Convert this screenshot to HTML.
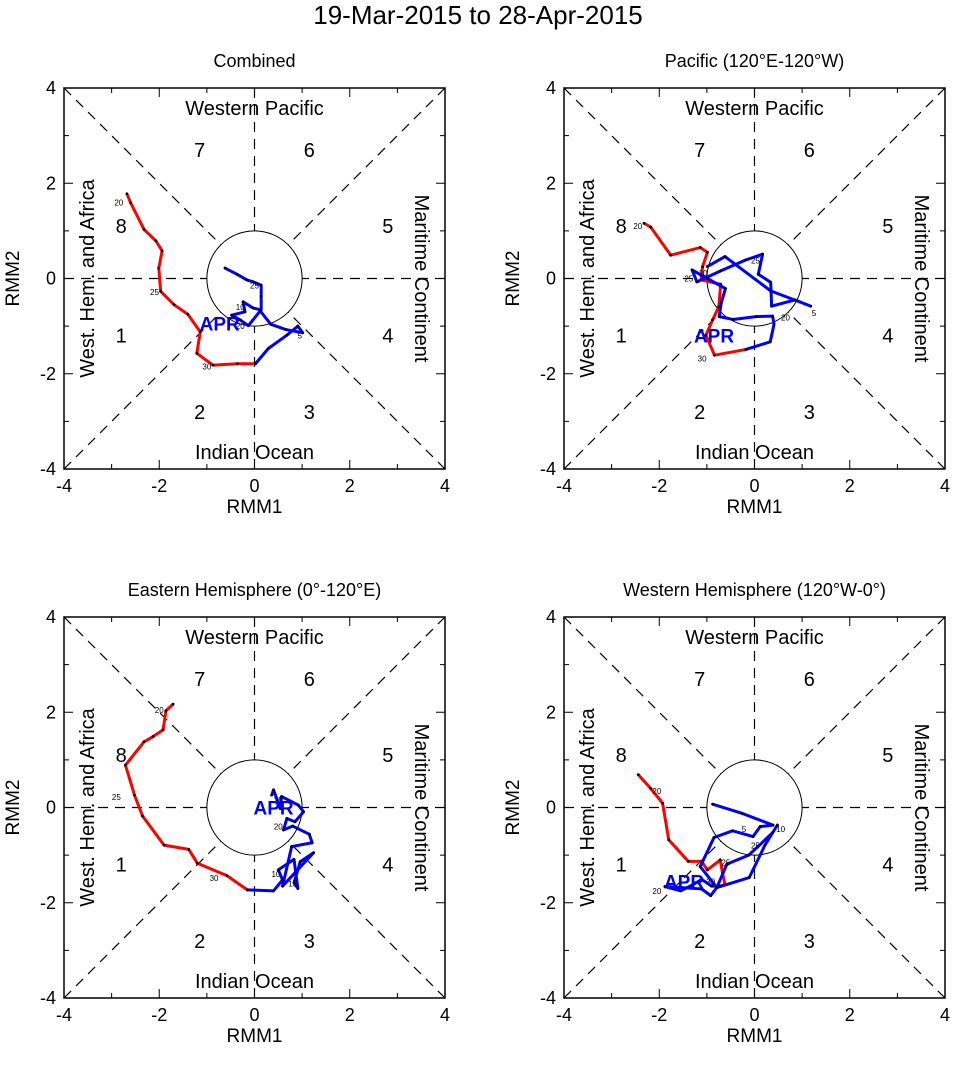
<!DOCTYPE html>
<html><head><meta charset="utf-8"><style>
body{margin:0;background:#fff;font-family:"Liberation Sans",sans-serif}
svg text{font-family:"Liberation Sans",sans-serif}
</style></head><body>
<svg id="s" width="956" height="1060">
<text x="478" y="24" font-size="26" text-anchor="middle">19-Mar-2015 to 28-Apr-2015</text>
</svg>
<script>
const panelTitles=["Combined","Pacific (120°E-120°W)","Eastern Hemisphere (0°-120°E)","Western Hemisphere (120°W-0°)"];
const red1=[[-2.68,1.78],[-2.60,1.59],[-2.32,1.03],[-2.07,0.79],[-1.94,0.58],[-2.01,0.22],[-1.97,-0.27],[-1.69,-0.55],[-1.40,-0.75],[-1.14,-1.12],[-1.21,-1.57],[-0.87,-1.82],[-0.36,-1.79],[0.02,-1.79]];
const blue1=[[0.02,-1.79],[0.29,-1.47],[0.68,-1.19],[0.91,-1.00],[1.01,-1.14],[0.65,-1.07],[0.34,-0.96],[0.12,-0.68],[-0.13,-0.99],[-0.30,-0.87],[-0.48,-0.77],[-0.20,-0.70],[-0.24,-0.49],[-0.03,-0.62],[0.14,-0.66],[0.14,-0.37],[0.14,-0.14],[-0.03,-0.07],[-0.16,-0.03],[-0.37,0.09],[-0.62,0.22]];
const red2=[[-2.32,1.16],[-2.18,1.08],[-1.76,0.49],[-1.14,0.65],[-0.99,0.55],[-1.09,0.25],[-1.12,-0.03],[-0.71,-0.12],[-0.75,-0.59],[-0.88,-0.87],[-1.02,-1.19],[-0.84,-1.61],[-0.18,-1.49]];
const blue2=[[-0.18,-1.49],[0.33,-1.33],[0.41,-0.96],[0.38,-0.79],[0.03,-0.80],[-0.45,-0.86],[-0.74,-0.80],[-0.70,-0.52],[-0.61,-0.21],[-0.99,0.00],[-1.31,0.18],[-1.21,-0.07],[-0.71,0.16],[-0.18,0.39],[0.17,0.51],[0.08,0.09],[0.34,-0.08],[0.36,-0.58],[0.85,-0.45],[1.18,-0.58],[0.34,-0.26],[-0.62,0.46],[-0.99,0.25]];
const red3=[[-1.71,2.17],[-1.86,2.03],[-1.92,1.63],[-2.13,1.49],[-2.32,1.38],[-2.71,0.89],[-2.52,0.26],[-2.35,-0.18],[-1.90,-0.79],[-1.38,-0.88],[-1.20,-1.17],[-0.58,-1.43],[-0.15,-1.73]];
const blue3=[[-0.15,-1.73],[0.40,-1.75],[0.59,-1.52],[0.50,-1.31],[0.83,-1.09],[0.91,-1.70],[0.83,-1.58],[0.96,-1.14],[1.24,-0.95],[0.59,-1.65],[0.78,-0.82],[1.21,-0.74],[1.15,-0.56],[0.80,-0.39],[0.61,-0.47],[0.68,-0.23],[0.85,-0.30],[1.03,-0.09],[0.92,0.05],[0.57,0.23],[0.54,-0.02],[0.40,0.37],[0.36,0.26]];
const red4=[[-2.44,0.69],[-2.18,0.40],[-1.93,0.09],[-1.80,-0.68],[-1.39,-1.13],[-1.11,-1.13],[-0.99,-1.31],[-0.72,-1.10],[-0.67,-1.38],[-0.62,-1.62],[-0.72,-1.65]];
const blue4=[[-0.72,-1.65],[-0.90,-1.65],[-1.11,-1.51],[-1.29,-1.62],[-1.55,-1.75],[-1.88,-1.66],[-1.11,-1.71],[-0.92,-1.85],[-0.79,-1.68],[-0.58,-1.19],[-0.12,-1.00],[0.38,-0.53],[0.48,-0.37],[0.22,-0.79],[-0.11,-1.47],[-0.79,-1.68],[-1.14,-1.24],[-0.85,-0.63],[-0.46,-0.49],[-0.03,-0.61],[0.12,-0.40],[0.39,-0.37],[-0.27,-0.12],[-0.88,0.07]];
const dayLabels1=[["20",-2.85,1.6],["25",-2.1,-0.28],["30",-1.0,-1.85],["5",0.95,-1.2],["10",-0.3,-0.6],["25",0.0,-0.15],["20",-0.3,-1.0]];
const dayLabels2=[["20",-2.45,1.1],["10",-1.08,0.12],["25",-1.38,0.0],["25",0.02,0.38],["20",0.65,-0.82],["5",1.25,-0.72],["30",-1.1,-1.68]];
const dayLabels3=[["20",-2.0,2.05],["25",-2.9,0.22],["30",-0.85,-1.48],["10",0.45,-1.4],["15",0.8,-1.6],["20",0.5,-0.4],["25",0.5,0.16]];
const dayLabels4=[["20",-2.05,0.35],["20",-2.05,-1.75],["25",-0.6,-1.15],["30",-0.92,-1.55],["25",0.02,-0.8],["5",-0.22,-0.45],["10",0.55,-0.45]];
const aprPos=[[-0.73,-0.95],[-0.85,-1.2],[0.4,0.0],[-1.48,-1.55]];
const reds=[red1,red2,red3,red4],blues=[blue1,blue2,blue3,blue4],dls=[dayLabels1,dayLabels2,dayLabels3,dayLabels4];
const ticks=[-4,-2,0,2,4];
const NS="http://www.w3.org/2000/svg";
const svg=document.getElementById('s');
function mk(t,a,p){const e=document.createElementNS(NS,t);for(const k in a)e.setAttribute(k,a[k]);(p||svg).appendChild(e);return e;}
const origins=[[64,88],[564,88],[64,617],[564,617]];
const W=381;
origins.forEach((o,i)=>{
  const g=mk('g',{});
  
  
  const sx=v=>o[0]+(v+4)/8*W, sy=v=>o[1]+(4-v)/8*W;
  const cx=sx(0),cy=sy(0),r=W/8;
  const t=mk('text',{x:cx,y:o[1]-21,'font-size':18,'text-anchor':'middle'},g);t.textContent=panelTitles[i];
  
  const dash={stroke:'#000','stroke-width':1.2,'stroke-dasharray':'10,7',fill:'none'};
  const d=r/Math.SQRT2;
  [[o[0],o[1],cx-d,cy-d],[o[0]+W,o[1],cx+d,cy-d],[o[0],o[1]+W,cx-d,cy+d],[o[0]+W,o[1]+W,cx+d,cy+d],[cx,o[1],cx,cy-r],[cx,o[1]+W,cx,cy+r],[o[0],cy,cx-r,cy],[o[0]+W,cy,cx+r,cy]].forEach(l=>mk('line',Object.assign({x1:l[0],y1:l[1],x2:l[2],y2:l[3]},dash),g));
  mk('circle',{cx:cx,cy:cy,r:r,fill:'none',stroke:'#000','stroke-width':1},g);
  const fr=mk('rect',{x:o[0],y:o[1],width:W,height:W,fill:'none',stroke:'#000','stroke-width':1.5},g);
  
  for(let v=-4;v<=4;v++){const L=(v%2===0)?9:5;
    mk('line',{x1:sx(v),y1:o[1]+W,x2:sx(v),y2:o[1]+W-L,stroke:'#000'},g);
    mk('line',{x1:sx(v),y1:o[1],x2:sx(v),y2:o[1]+L,stroke:'#000'},g);
    mk('line',{x1:o[0],y1:sy(v),x2:o[0]+L,y2:sy(v),stroke:'#000'},g);
    mk('line',{x1:o[0]+W,y1:sy(v),x2:o[0]+W-L,y2:sy(v),stroke:'#000'},g);}
  ticks.forEach(v=>{
    let a=mk('text',{x:sx(v),y:o[1]+W+23,'font-size':18,'text-anchor':'middle'},g);a.textContent=v;
    
    let b=mk('text',{x:o[0]-8,y:sy(v)+6,'font-size':18,'text-anchor':'end'},g);b.textContent=v;
    
  });
  let xl=mk('text',{x:cx,y:o[1]+W+44,'font-size':19,'text-anchor':'middle'},g);xl.textContent='RMM1';
  
  let yl=mk('text',{x:0,y:0,'font-size':19,'text-anchor':'middle',transform:`translate(${o[0]-45},${cy}) rotate(-90)`},g);yl.textContent='RMM2';
  
  const reg=[['Western Pacific',cx,o[1]+27,0],['Indian Ocean',cx,o[1]+W-10,0]];
  reg.forEach(q=>{let e=mk('text',{x:q[1],y:q[2],'font-size':20,'text-anchor':'middle'},g);e.textContent=q[0];});
  let wl=mk('text',{x:0,y:0,'font-size':20,'text-anchor':'middle',transform:`translate(${o[0]+30},${cy}) rotate(-90)`},g);wl.textContent='West. Hem. and Africa';
  
  let ml=mk('text',{x:0,y:0,'font-size':20,'text-anchor':'middle',transform:`translate(${o[0]+W-30},${cy}) rotate(90)`},g);ml.textContent='Maritime Continent';
  
  const ph=[['8',-2.8,1.1],['7',-1.15,2.7],['6',1.15,2.7],['5',2.8,1.1],['4',2.8,-1.2],['3',1.15,-2.8],['2',-1.15,-2.8],['1',-2.8,-1.2]];
  ph.forEach(q=>{let e=mk('text',{x:sx(q[1]),y:sy(q[2])+7,'font-size':20,'text-anchor':'middle'},g);e.textContent=q[0];});
  const line=(arr,col,name)=>{const p=mk('polyline',{points:arr.map(q=>sx(q[0])+','+sy(q[1])).join(' '),fill:'none',stroke:col,'stroke-width':3,'stroke-linejoin':'round'},g);
    
    arr.forEach(q=>mk('circle',{cx:sx(q[0]),cy:sy(q[1]),r:1.4,fill:'#000'},g));};
  line(reds[i],'#ff0000','march-track');
  line(blues[i],'#0000ff','april-track');
  dls[i].forEach(q=>{let e=mk('text',{x:sx(q[1]),y:sy(q[2])+3,'font-size':8,'text-anchor':'middle'},g);e.textContent=q[0];});
  let ap=mk('text',{x:sx(aprPos[i][0]),y:sy(aprPos[i][1])+7,'font-size':19,'font-weight':'bold',fill:'#0000ff','text-anchor':'middle'},g);ap.textContent='APR';
  
});
</script>
</body></html>
